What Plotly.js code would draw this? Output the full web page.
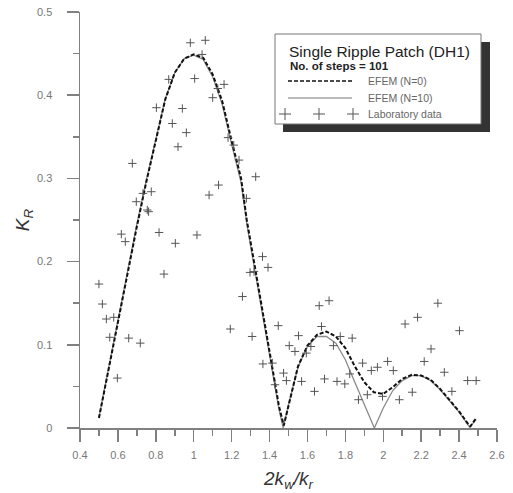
<!DOCTYPE html>
<html>
<head>
<meta charset="utf-8">
<script src="https://cdn.plot.ly/plotly-3.0.1.min.js"></script>
<style>html,body{margin:0;padding:0;background:#fff;}#chart{width:513px;height:493px;}</style>
</head>
<body>
<div id="chart"></div>
<script>
// ---- Data ----
const efemN0_x = [0.5,0.55,0.6,0.65,0.7,0.75,0.8,0.85,0.9,0.95,1.0,1.05,1.1,1.15,1.2,1.25,1.28,1.3,1.35,1.4,1.45,1.475,1.5,1.55,1.6,1.65,1.7,1.75,1.8,1.85,1.9,1.95,2.0,2.05,2.1,2.15,2.2,2.25,2.3,2.35,2.4,2.45,2.46,2.49];
const efemN0_y = [0.012,0.07,0.128,0.188,0.242,0.296,0.346,0.395,0.427,0.444,0.449,0.445,0.425,0.393,0.345,0.30,0.25,0.224,0.157,0.094,0.026,0.003,0.028,0.074,0.099,0.112,0.116,0.110,0.096,0.074,0.055,0.043,0.041,0.049,0.059,0.064,0.063,0.058,0.047,0.034,0.020,0.004,0.002,0.012];

const efemN10_x = [0.5,0.55,0.6,0.65,0.7,0.75,0.8,0.85,0.9,0.95,1.0,1.05,1.1,1.15,1.2,1.25,1.28,1.3,1.35,1.4,1.45,1.472,1.5,1.55,1.6,1.65,1.7,1.75,1.8,1.85,1.9,1.953,2.0,2.05,2.1,2.15,2.2,2.25,2.3,2.35,2.4,2.45,2.455,2.49];
const efemN10_y = [0.013,0.072,0.13,0.19,0.245,0.298,0.348,0.396,0.427,0.444,0.448,0.443,0.422,0.389,0.341,0.295,0.245,0.219,0.152,0.089,0.022,0.0,0.028,0.073,0.098,0.110,0.110,0.102,0.082,0.055,0.028,0.0,0.024,0.045,0.057,0.063,0.063,0.057,0.046,0.033,0.019,0.003,0.001,0.010];

const lab_x = [0.500,0.518,0.539,0.578,0.557,0.597,0.618,0.639,0.657,0.676,0.697,0.718,0.732,0.755,0.762,0.776,0.803,0.817,0.843,0.868,0.887,0.903,0.917,0.940,0.961,0.982,1.005,1.017,1.044,1.061,1.081,1.100,1.127,1.131,1.160,1.181,1.193,1.211,1.239,1.257,1.278,1.297,1.308,1.318,1.327,1.363,1.365,1.392,1.415,1.429,1.446,1.474,1.489,1.504,1.534,1.553,1.569,1.594,1.618,1.637,1.662,1.674,1.690,1.714,1.737,1.756,1.773,1.797,1.823,1.836,1.869,1.891,1.916,1.937,1.969,1.996,2.023,2.053,2.085,2.115,2.153,2.181,2.216,2.252,2.288,2.322,2.362,2.402,2.445,2.490];
const lab_y = [0.173,0.149,0.131,0.133,0.109,0.060,0.233,0.224,0.108,0.318,0.272,0.102,0.282,0.262,0.260,0.284,0.385,0.235,0.185,0.419,0.366,0.222,0.338,0.384,0.355,0.463,0.420,0.232,0.449,0.466,0.280,0.397,0.408,0.292,0.413,0.349,0.119,0.340,0.322,0.158,0.276,0.187,0.110,0.188,0.302,0.206,0.077,0.193,0.078,0.052,0.123,0.066,0.057,0.099,0.092,0.111,0.056,0.090,0.098,0.044,0.147,0.122,0.059,0.153,0.099,0.056,0.110,0.053,0.065,0.108,0.034,0.078,0.040,0.069,0.073,0.038,0.080,0.069,0.034,0.125,0.043,0.133,0.080,0.095,0.150,0.067,0.044,0.117,0.057,0.057];

const xTickStep = 0.2;
const yTickStep = 0.1;

const legendTitle = 'Single Ripple Patch (DH1)';
const legendSub = 'No. of steps = 101';
const seriesNames = ['EFEM (N=0)', 'EFEM (N=10)', 'Laboratory data'];

// ---- Layout helpers (pixel -> paper) ----
const W = 513, H = 493, ML = 80, MR = 16, MT = 12, MB = 65;
const PW = W - ML - MR, PH = H - MT - MB;
const px = v => (v - ML) / PW;
const py = v => (H - MB - v) / PH;

const FONT = 'Liberation Sans, Arial, sans-serif';

const traces = [
  {x: efemN10_x, y: efemN10_y, mode: 'lines', name: seriesNames[1],
   line: {color: '#8a8a8a', width: 1.3}, showlegend: false},
  {x: efemN0_x, y: efemN0_y, mode: 'lines', name: seriesNames[0],
   line: {color: '#111', width: 2, dash: '4px,2px'}, showlegend: false},
  {x: lab_x, y: lab_y, mode: 'markers', name: seriesNames[2],
   marker: {symbol: 'cross-thin', size: 6, line: {color: '#555', width: 1}}, showlegend: false}
];

const shapes = [];
const annotations = [];
// legend shadow + box
shapes.push({type:'rect', xref:'paper', yref:'paper', x0:px(283), x1:px(490), y0:py(132), y1:py(42),
  fillcolor:'#333', line:{width:0}, layer:'above'});
shapes.push({type:'rect', xref:'paper', yref:'paper', x0:px(275), x1:px(481), y0:py(124), y1:py(34),
  fillcolor:'#fff', line:{color:'#777', width:1}, layer:'above'});
// sample lines
shapes.push({type:'line', xref:'paper', yref:'paper', x0:px(288), x1:px(352), y0:py(81), y1:py(81),
  line:{color:'#111', width:1.5, dash:'4px,2px'}, layer:'above'});
shapes.push({type:'line', xref:'paper', yref:'paper', x0:px(288), x1:px(352), y0:py(98), y1:py(98),
  line:{color:'#777', width:1}, layer:'above'});
// three crosses
[285, 319, 353].forEach(cx => {
  const cy = 114, r = 6;
  shapes.push({type:'line', xref:'paper', yref:'paper', x0:px(cx-r), x1:px(cx+r), y0:py(cy), y1:py(cy), line:{color:'#555', width:1}, layer:'above'});
  shapes.push({type:'line', xref:'paper', yref:'paper', x0:px(cx), x1:px(cx), y0:py(cy-r), y1:py(cy+r), line:{color:'#555', width:1}, layer:'above'});
});
annotations.push({xref:'paper', yref:'paper', x:px(287), y:py(51), xanchor:'left', yanchor:'middle', showarrow:false,
  text:legendTitle, font:{family:FONT, size:15.5, color:'#222'}});
annotations.push({xref:'paper', yref:'paper', x:px(288), y:py(66), xanchor:'left', yanchor:'middle', showarrow:false,
  text:'<b>'+legendSub+'</b>', font:{family:FONT, size:11.5, color:'#222'}});
annotations.push({xref:'paper', yref:'paper', x:px(366), y:py(81), xanchor:'left', yanchor:'middle', showarrow:false,
  text:seriesNames[0], font:{family:FONT, size:10.5, color:'#666'}});
annotations.push({xref:'paper', yref:'paper', x:px(366), y:py(98), xanchor:'left', yanchor:'middle', showarrow:false,
  text:seriesNames[1], font:{family:FONT, size:10.5, color:'#666'}});
annotations.push({xref:'paper', yref:'paper', x:px(366), y:py(114), xanchor:'left', yanchor:'middle', showarrow:false,
  text:seriesNames[2], font:{family:FONT, size:10.5, color:'#666'}});

const axisCommon = {
  showline: true, linecolor: '#808080', linewidth: 1.5, showgrid: false, zeroline: false,
  ticks: 'outside', ticklen: 12, tickwidth: 1.5, tickcolor: '#808080',
  tickfont: {family: FONT, size: 11, color: '#777'}
};

const layout = {
  width: W, height: H,
  margin: {l: ML, r: MR, t: MT, b: MB},
  paper_bgcolor: '#fff', plot_bgcolor: '#fff',
  showlegend: false,
  xaxis: Object.assign({}, axisCommon, {
    range: [0.4, 2.6], tick0: 0.4, dtick: xTickStep, ticklabelstandoff: 4,
    minor: {dtick: xTickStep/2, ticks: 'outside', ticklen: 6, tickwidth: 1.5, tickcolor: '#808080'},
    title: {text: '<i>2k<sub>w</sub>/k<sub>r</sub></i>', font: {family: FONT, size: 19, color: '#333'}, standoff: 12}
  }),
  yaxis: Object.assign({}, axisCommon, {
    range: [0, 0.5], tick0: 0, dtick: yTickStep, ticklabelstandoff: 12,
    minor: {dtick: yTickStep/2, ticks: 'outside', ticklen: 6, tickwidth: 1.5, tickcolor: '#808080'},
    title: {text: '<i>K<sub>R</sub></i>', font: {family: FONT, size: 19, color: '#333'}, standoff: 2}
  }),
  shapes: shapes,
  annotations: annotations
};

Plotly.newPlot('chart', traces, layout, {displayModeBar: false, staticPlot: true});
</script>
</body>
</html>
